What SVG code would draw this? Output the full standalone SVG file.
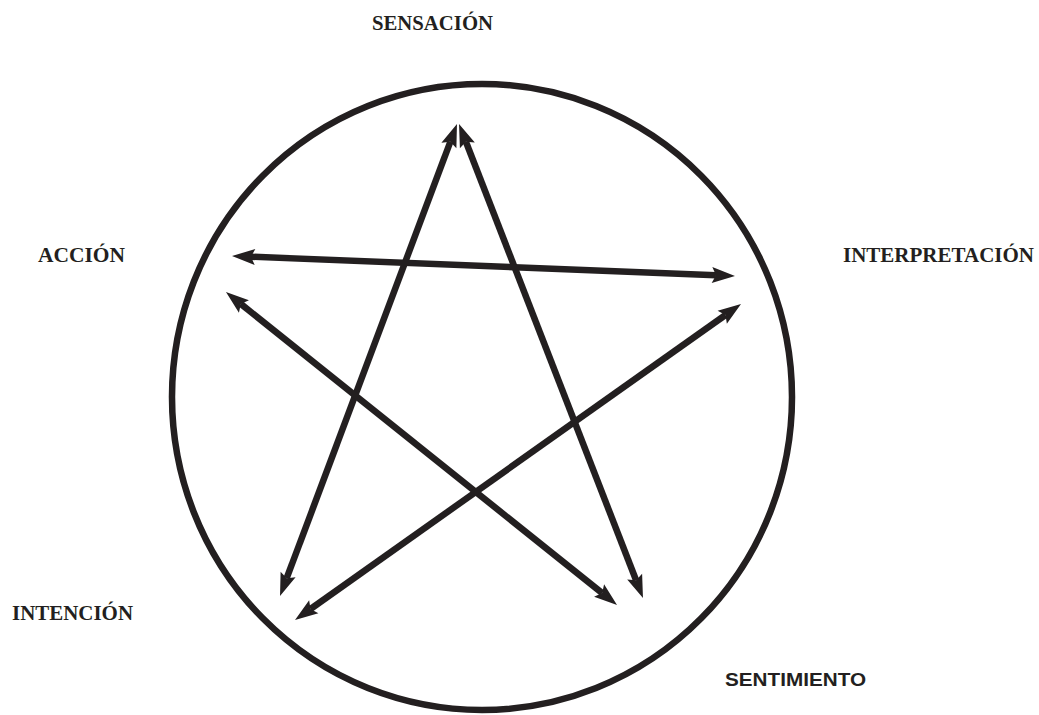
<svg xmlns="http://www.w3.org/2000/svg" width="1039" height="715" viewBox="0 0 1039 715">
  <style>
    .lbl { font-family: "Liberation Serif", "Times New Roman", serif; font-weight: bold; font-size: 20px; fill: #231f20; }
    .lbls { font-family: "Liberation Sans", Arial, sans-serif; font-weight: bold; font-size: 19px; fill: #231f20; }
    .arrow { stroke: #231f20; stroke-width: 6.5; fill: none; marker-start: url(#head); marker-end: url(#head); }
  </style>
  <defs>
    <marker id="head" markerUnits="userSpaceOnUse" viewBox="-5 -10 30 20" markerWidth="30" markerHeight="20" refX="0" refY="0" orient="auto-start-reverse">
      <path d="M-4,-8 L19,0 L-4,8 L0,0 Z" fill="#231f20"/>
    </marker>
  </defs>
  <rect width="1039" height="715" fill="#ffffff"/>
  <g id="circle">
    <ellipse cx="482" cy="397" rx="310" ry="313" fill="none" stroke="#231f20" stroke-width="6.5"/>
  </g>
  <g id="connectors">
    <line class="arrow" x1="450.3" y1="141.8" x2="286.7" y2="578.2"/>
    <line class="arrow" x1="465.9" y1="141.7" x2="636.1" y2="580.3"/>
    <line class="arrow" x1="251" y1="256.75" x2="716" y2="275.25"/>
    <line class="arrow" x1="240.8" y1="303.9" x2="602.2" y2="593.1"/>
    <line class="arrow" x1="725.5" y1="315" x2="310.5" y2="609"/>
  </g>
  <g id="sensacion"><text class="lbl" x="372" y="30" textLength="121" lengthAdjust="spacingAndGlyphs">SENSACIÓN</text></g>
  <g id="accion"><text class="lbl" x="38" y="262" textLength="87" lengthAdjust="spacingAndGlyphs">ACCIÓN</text></g>
  <g id="interpretacion"><text class="lbl" x="843" y="262" textLength="191" lengthAdjust="spacingAndGlyphs">INTERPRETACIÓN</text></g>
  <g id="intencion"><text class="lbl" x="12" y="620" textLength="121" lengthAdjust="spacingAndGlyphs">INTENCIÓN</text></g>
  <g id="sentimiento"><text class="lbls" x="725" y="686" textLength="141" lengthAdjust="spacingAndGlyphs">SENTIMIENTO</text></g>
</svg>
